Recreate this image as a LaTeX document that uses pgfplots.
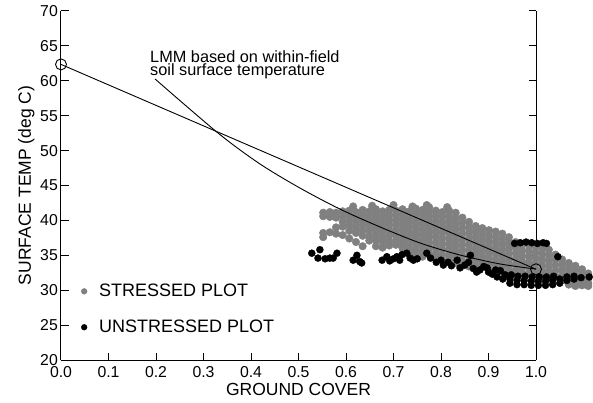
\documentclass[border=0pt]{standalone}
\usepackage{fontspec}
\setmainfont{Liberation Sans}
\usepackage{pgfplots}
\pgfplotsset{compat=1.18}

\begin{document}
\begin{tikzpicture}
\begin{axis}[
  at={(0pt,0pt)}, anchor=south west,
  scale only axis, width=475pt, height=349pt,
  xmin=0, xmax=1, ymin=20, ymax=70,
  clip=false,
  axis x line*=bottom,
  axis line style={line width=1pt,-},
  tick align=inside,
  major tick length=7.5pt,
  tick style={line width=1pt,black},
  xtick={0,0.1,0.2,0.3,0.4,0.5,0.6,0.7,0.8,0.9,1.0},
  xticklabels={0.0,0.1,0.2,0.3,0.4,0.5,0.6,0.7,0.8,0.9,1.0},
  ytick={20,25,...,70},
  yticklabel pos=left,
  /pgf/number format/assume math mode=true,
  ticklabel style={font=\fontsize{15.8}{18}\selectfont},
  xticklabel style={anchor=base, yshift=-17pt, inner sep=0pt},
  yticklabel style={anchor=east, inner sep=0pt, xshift=-3pt},
  xlabel={GROUND COVER},
  ylabel={SURFACE TEMP (deg C)},
  label style={font=\fontsize{17.5}{20}\selectfont, inner sep=0pt},
  xlabel style={at={(axis description cs:0.5,-0.1003)}, anchor=base},
  ylabel style={at={(axis description cs:-0.0632,0.5)}, anchor=base},
  legend image code/.code={\draw[#1, mark size=2.9pt] plot coordinates {(0pt,0pt)};},
  legend cell align=left,
  legend style={draw=none, fill=none, at={(axis cs:0.0423,30.87)}, anchor=north west,
    font=\fontsize{18}{20}\selectfont, row sep=21.8pt, column sep=12pt,
    inner sep=0pt, nodes={inner sep=0pt}},
]
% stressed plot
\addplot[only marks, mark=*, mark size=3.8pt, color=gray]
coordinates {
(0.552,41.1) (0.552,40.6) (0.552,38.2) (0.552,37.6)
(0.566,41.2) (0.566,40.5) (0.566,38.3)
(0.579,41.1) (0.579,40.4) (0.579,39.0) (0.579,38.1)
(0.593,41.3) (0.593,40.6) (0.593,39.8) (0.593,39.1) (0.593,37.9)
(0.607,41.4) (0.607,40.7) (0.607,40.0) (0.607,39.3) (0.607,38.5) (0.607,37.4)
(0.621,41.2) (0.621,40.5) (0.621,39.8) (0.621,39.0) (0.621,38.2) (0.621,36.9)
(0.635,41.5) (0.635,40.8) (0.635,40.1) (0.635,39.4) (0.635,38.6) (0.635,37.8) (0.635,36.3)
(0.649,41.3) (0.649,40.6) (0.649,39.9) (0.649,39.2) (0.649,38.5) (0.649,37.7) (0.649,37.1)
(0.663,41.6) (0.663,40.9) (0.663,40.2) (0.663,39.5) (0.663,38.8) (0.663,38.0) (0.663,37.2) (0.663,36.3)
(0.677,41.3) (0.677,40.6) (0.677,39.9) (0.677,39.2) (0.677,38.4) (0.677,37.6) (0.677,36.9) (0.677,36.1)
(0.691,41.5) (0.691,40.8) (0.691,40.1) (0.691,39.4) (0.691,38.7) (0.691,37.9) (0.691,37.1) (0.691,36.4)
(0.705,41.4) (0.705,40.7) (0.705,40.0) (0.705,39.3) (0.705,38.5) (0.705,37.8) (0.705,37.0) (0.705,36.5)
(0.719,41.6) (0.719,40.9) (0.719,40.2) (0.719,39.5) (0.719,38.8) (0.719,38.0) (0.719,37.3) (0.719,36.6) (0.719,36.0)
(0.733,41.3) (0.733,40.6) (0.733,39.9) (0.733,39.2) (0.733,38.4) (0.733,37.7) (0.733,36.9) (0.733,36.1) (0.733,35.4)
(0.747,41.7) (0.747,41.0) (0.747,40.3) (0.747,39.6) (0.747,38.9) (0.747,38.1) (0.747,37.4) (0.747,36.6) (0.747,35.8) (0.747,35.0)
(0.761,41.5) (0.761,40.8) (0.761,40.1) (0.761,39.4) (0.761,38.6) (0.761,37.9) (0.761,37.1) (0.761,36.3) (0.761,35.5) (0.761,34.8)
(0.775,41.9) (0.775,41.2) (0.775,40.5) (0.775,39.7) (0.775,39.0) (0.775,38.2) (0.775,37.5) (0.775,36.7) (0.775,35.9) (0.775,35.1)
(0.789,41.4) (0.789,40.7) (0.789,40.0) (0.789,39.2) (0.789,38.5) (0.789,37.7) (0.789,36.9) (0.789,36.1) (0.789,35.3) (0.789,34.6)
(0.803,41.2) (0.803,40.5) (0.803,39.7) (0.803,39.0) (0.803,38.2) (0.803,37.4) (0.803,36.6) (0.803,35.8) (0.803,35.0) (0.803,34.3)
(0.817,41.4) (0.817,40.6) (0.817,39.9) (0.817,39.1) (0.817,38.3) (0.817,37.5) (0.817,36.7) (0.817,35.9) (0.817,35.1) (0.817,34.3)
(0.831,41.1) (0.831,40.3) (0.831,39.5) (0.831,38.7) (0.831,37.9) (0.831,37.1) (0.831,36.3) (0.831,35.5) (0.831,34.7) (0.831,33.9)
(0.845,40.4) (0.845,39.7) (0.845,38.9) (0.845,38.1) (0.845,37.3) (0.845,36.5) (0.845,35.7) (0.845,34.9) (0.845,34.1) (0.845,33.5)
(0.859,39.8) (0.859,39.0) (0.859,38.2) (0.859,37.4) (0.859,36.6) (0.859,35.8) (0.859,35.0) (0.859,34.2) (0.859,33.4)
(0.873,39.2) (0.873,38.5) (0.873,37.7) (0.873,36.9) (0.873,36.1) (0.873,35.3) (0.873,34.5) (0.873,33.7) (0.873,33.1)
(0.887,38.9) (0.887,38.1) (0.887,37.3) (0.887,36.5) (0.887,35.7) (0.887,34.9) (0.887,34.1) (0.887,33.3)
(0.901,38.6) (0.901,37.8) (0.901,37.0) (0.901,36.2) (0.901,35.4) (0.901,34.6) (0.901,33.8) (0.901,33.0)
(0.915,38.4) (0.915,37.6) (0.915,36.8) (0.915,36.0) (0.915,35.2) (0.915,34.4) (0.915,33.6) (0.915,32.8)
(0.929,38.1) (0.929,37.3) (0.929,36.5) (0.929,35.7) (0.929,34.9) (0.929,34.1) (0.929,33.3) (0.929,32.6)
(0.943,37.6) (0.943,36.8) (0.943,36.0) (0.943,35.2) (0.943,34.4) (0.943,33.6) (0.943,32.8) (0.943,32.2)
(0.957,36.9) (0.957,36.1) (0.957,35.3) (0.957,34.5) (0.957,33.7) (0.957,32.9) (0.957,32.2)
(0.971,36.5) (0.971,35.7) (0.971,34.9) (0.971,34.1) (0.971,33.3) (0.971,32.5)
(0.985,36.4) (0.985,35.6) (0.985,34.8) (0.985,34.0) (0.985,33.2) (0.985,32.4)
(0.999,36.2) (0.999,35.4) (0.999,34.6) (0.999,33.8) (0.999,33.0) (0.999,32.3)
(1.013,36.0) (1.013,35.2) (1.013,34.4) (1.013,33.6) (1.013,32.8) (1.013,32.1)
(1.027,35.8) (1.027,35.0) (1.027,34.2) (1.027,33.4) (1.027,32.6) (1.027,31.9)
(1.041,35.1) (1.041,34.4) (1.041,33.6) (1.041,32.8) (1.041,32.0)
(1.055,34.4) (1.055,33.7) (1.055,32.9) (1.055,32.1) (1.055,31.4)
(1.069,33.9) (1.069,33.2) (1.069,32.4) (1.069,31.6) (1.069,30.8)
(1.083,33.5) (1.083,32.8) (1.083,32.0) (1.083,31.2) (1.083,30.6)
(1.097,33.0) (1.097,32.3) (1.097,31.5) (1.097,30.7)
(1.110,32.4) (1.110,31.7) (1.110,31.0) (1.110,30.6)
(0.615,42.0) (0.655,42.1) (0.700,42.2) (0.740,42.0) (0.770,42.2) (0.813,41.9)
};
\addlegendentry{STRESSED PLOT}
% unstressed plot
\addplot[only marks, mark=*, mark size=3.5pt, color=black]
coordinates {
(0.528,35.3) (0.545,35.8) (0.541,34.6) (0.556,34.5) (0.566,34.6) (0.573,34.6)
(0.581,35.3) (0.615,34.3) (0.623,35.0) (0.629,34.1) (0.633,33.9)
(0.676,34.3) (0.686,34.8) (0.692,34.2) (0.700,34.5) (0.707,34.8) (0.713,34.3)
(0.718,35.1) (0.728,35.3) (0.735,34.6) (0.742,34.3) (0.750,34.5)
(0.770,35.3) (0.778,34.6) (0.790,34.0) (0.800,34.3) (0.805,33.6) (0.815,34.0)
(0.822,33.5) (0.834,34.3) (0.840,33.2) (0.850,33.6) (0.858,34.0) (0.862,35.0)
(0.868,33.1) (0.875,32.6) (0.882,32.9) (0.890,33.4) (0.897,33.2) (0.900,32.6)
(0.908,32.3) (0.915,32.9) (0.918,31.9) (0.925,32.8)
(0.930,31.6) (0.935,32.2) (0.945,31.0) (0.945,31.6) (0.948,32.2)
(0.960,30.8) (0.960,31.4) (0.962,32.0) (0.975,30.8) (0.975,31.4) (0.977,32.0)
(0.990,30.7) (0.990,31.3) (0.992,31.9) (1.005,30.7) (1.005,31.3) (1.007,31.9)
(1.020,30.7) (1.020,31.3) (1.022,31.9) (1.035,30.8) (1.035,31.4) (1.037,32.0)
(1.050,31.0) (1.050,31.6) (1.065,31.4) (1.065,31.9) (1.080,31.6) (1.080,32.0)
(1.095,31.8) (1.112,31.9)
(0.955,36.7) (0.967,36.8) (0.979,36.9) (0.991,36.8) (1.003,36.7) (1.015,36.8) (1.022,36.7)
(1.046,34.8)
};
\addlegendentry{UNSTRESSED PLOT}
\node[anchor=base west, inner sep=0pt, font=\fontsize{16.3}{18}\selectfont]
  at (axis cs:0.1874,62.69) {LMM based on within-field};
\node[anchor=base west, inner sep=0pt, font=\fontsize{16.3}{18}\selectfont]
  at (axis cs:0.1874,60.69) {soil surface temperature};
\end{axis}
% lines drawn over the scatter, on the same axis frame
\begin{axis}[
  at={(0pt,0pt)}, anchor=south west,
  scale only axis, width=475pt, height=349pt,
  xmin=0, xmax=1, ymin=20, ymax=70,
  clip=false, hide axis,
]
\addplot[black, line width=0.9pt] coordinates {(0,62.35) (1.0,33.0)};
\addplot[black, line width=0.9pt, smooth] coordinates {
(0.198,60.26) (0.3305,52.52) (0.419,48.08) (0.503,44.64) (0.587,41.63)
(0.672,39.05) (0.756,36.76) (0.840,35.04) (0.925,33.75) (1.0,33.03)
};
\addplot[only marks, mark=o, mark size=5.5pt, line width=0.9pt, black]
  coordinates {(0,62.35) (1.0,33.0)};
\end{axis}
\path (-61pt,-42pt) rectangle (532pt,360pt);
\end{tikzpicture}
\end{document}
